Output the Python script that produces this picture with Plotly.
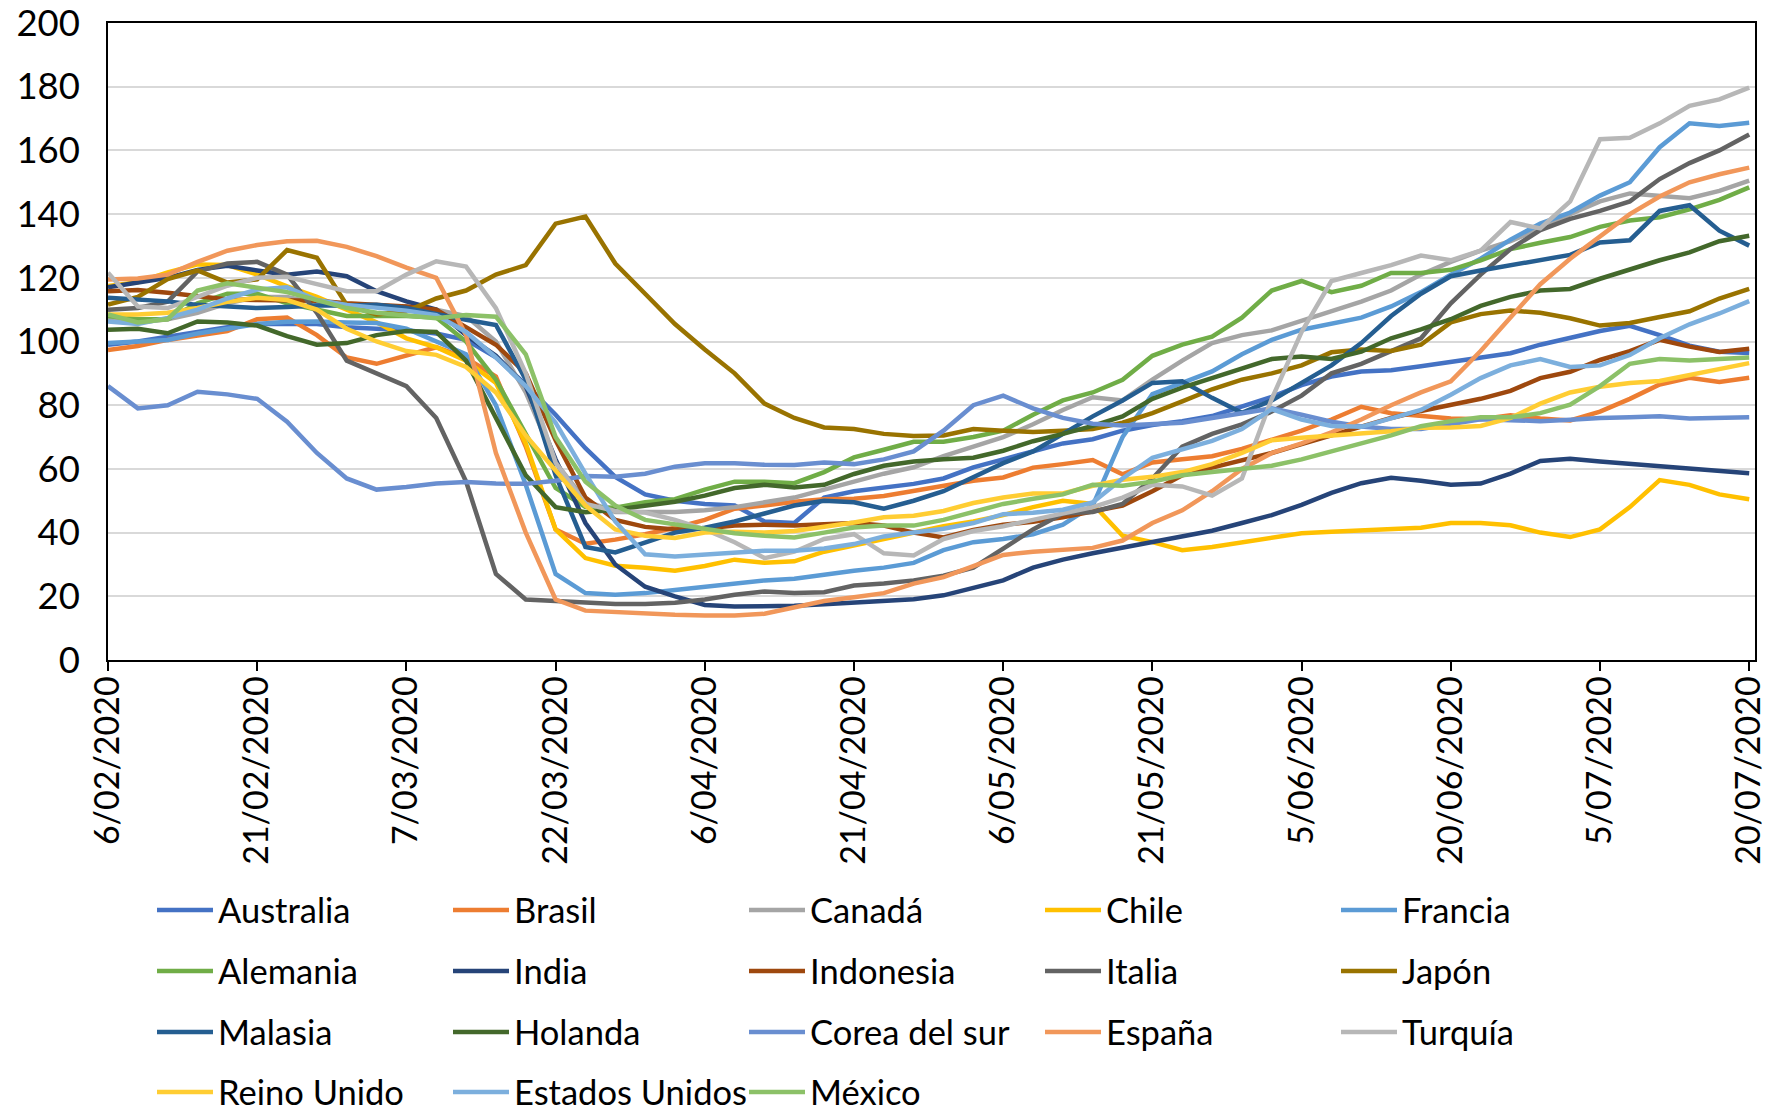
import pandas as pd
import plotly.graph_objects as go

# Sample dates: every 3 days from 6 Feb 2020 to 20 Jul 2020
DATES = pd.date_range("2020-02-06", periods=56, freq="3D")

TICK_DATES = ["2020-02-06", "2020-02-21", "2020-03-07", "2020-03-22", "2020-04-06", "2020-04-21",
              "2020-05-06", "2020-05-21", "2020-06-05", "2020-06-20", "2020-07-05", "2020-07-20"]
TICK_LABELS = ["6/02/2020", "21/02/2020", "7/03/2020", "22/03/2020", "6/04/2020", "21/04/2020",
               "6/05/2020", "21/05/2020", "5/06/2020", "20/06/2020", "5/07/2020", "20/07/2020"]

australia = [99, 100, 101.5, 103, 104.5, 105.5, 105.5, 105.5, 104.5, 104, 103.5, 102.5, 100.5, 95, 86.5, 77,
             66.5, 57.5, 52, 50, 49, 48.5, 43.5, 43, 51, 53, 54.2, 55.3, 57, 60.5, 63, 65.5, 68, 69.3, 72, 73.8,
             75, 76.6, 79.7, 82.6, 86.3, 89, 90.6, 91, 92.2, 93.5, 95.1, 96.3, 99, 101, 103.3, 104.9, 102, 98.7,
             96.8, 96.4]
brasil = [97.3, 98.6, 100.5, 102, 103.3, 107, 107.5, 102, 95, 93, 95.5, 98.2, 94.8, 89, 67, 41, 36.5, 37.8, 39.5,
          41.5, 44, 47.5, 48.5, 49.7, 50.5, 50.6, 51.5, 53, 54.6, 56.3, 57.3, 60.4, 61.5, 62.8, 58.3, 62, 63, 64,
          66.3, 69, 72, 75.5, 79.5, 77.5, 76.5, 75.8, 75.6, 76.8, 75.8, 75.2, 78, 82, 86.5, 88.6, 87.3, 88.6]
canada = [107, 106, 107, 109, 112, 114, 114, 112, 111, 111, 111, 110, 108, 100, 84, 62, 50, 46.5, 46.5, 46.5, 47,
          48, 49.5, 51, 53.5, 56, 58.5, 60.5, 64, 67, 70, 74, 78.5, 82.5, 81.5, 88, 94, 99.5, 102, 103.5, 106.5,
          109.5, 112.5, 116, 121, 125, 128.5, 131.5, 135.5, 140, 144, 146.5, 145.8, 145, 147.3, 150.5]
chile = [117.4, 118.6, 121.7, 124.2, 124, 121, 117.3, 114, 110, 106, 101, 98.2, 94, 87, 68, 41, 32, 29.6, 29, 28,
         29.5, 31.5, 30.5, 31, 34, 36, 38, 39.7, 42, 43.5, 45.5, 48, 50, 49, 39, 37, 34.5, 35.5, 37, 38.6, 39.8,
         40.3, 40.6, 41, 41.5, 43, 43, 42.3, 40, 38.6, 41, 48, 56.5, 55, 52, 50.5]
francia = [99.5, 100, 100.5, 102.5, 104, 105.5, 106.2, 106.3, 106, 105.8, 104, 100, 96, 80, 55, 27, 21, 20.5, 21,
           22, 23, 24, 25, 25.5, 26.8, 28, 29, 30.5, 34.5, 37, 38, 39.5, 42.5, 48.5, 70, 83.5, 87, 90.6, 96, 100.5,
           103.7, 105.5, 107.5, 111, 115.5, 121, 126, 132, 137, 140.5, 145.8, 150, 161, 168.5, 167.7, 168.7]
alemania = [108, 107, 107, 112, 115, 115, 112, 110, 108, 108, 108, 107.5, 100, 88, 71, 54, 48, 47.8, 49.5, 50.5,
            53.5, 56, 56, 55.5, 59, 63.6, 66, 68.5, 68.5, 70, 72, 77, 81.5, 84, 88, 95.5, 99, 101.5, 107.5, 116,
            119, 115.5, 117.5, 121.5, 121.5, 122.5, 125.5, 129, 131, 132.8, 136, 138, 139, 141.5, 144.5, 148.4]
india = [117, 118.5, 120, 122.5, 123.8, 122.3, 121, 122, 120.5, 115.8, 112.6, 110, 102, 95.5, 86, 63, 43, 30, 23,
         20, 17.3, 16.8, 16.8, 17, 17.5, 18.1, 18.6, 19.1, 20.3, 22.5, 25, 29, 31.5, 33.5, 35.2, 37, 38.7, 40.6,
         43, 45.5, 48.7, 52.5, 55.5, 57.2, 56.3, 55, 55.4, 58.5, 62.5, 63.2, 62.3, 61.6, 61, 60.3, 59.6, 58.6]
indonesia = [115.8, 116.2, 115.3, 114.2, 113.2, 113, 113, 112.8, 112, 111.5, 111, 110, 104.5, 99, 90, 69, 51, 44,
             41.8, 41, 41.3, 42.2, 42.5, 42.2, 42.6, 43, 42.2, 40, 38.5, 40.8, 42.5, 43.4, 44.8, 46.5, 48.5, 53, 58,
             60.4, 62.6, 65, 67.8, 70.5, 73.5, 76, 78.2, 80, 82, 84.5, 88.5, 90.5, 94.2, 97, 100.5, 98.4, 96.7, 97.7]
italia = [110, 110.5, 112.5, 122, 124.5, 125, 121, 109, 94, 90, 86, 76, 56, 27, 19, 18.5, 18, 17.6, 17.6, 18, 19,
          20.5, 21.5, 21, 21.3, 23.4, 24, 25, 26.5, 29, 35, 41, 46, 46.5, 49, 57, 67, 71, 74, 78, 83, 90, 93, 97,
          101, 112, 121, 129, 135, 138.5, 141, 144, 151, 156, 160, 165]
japon = [111.6, 114, 119.6, 122.3, 118.5, 119.5, 128.7, 126.3, 111.5, 108.5, 109.5, 113.5, 116, 121, 124, 137,
         139.2, 124.5, 115, 105.5, 97.5, 90, 80.5, 76, 73, 72.5, 71, 70.3, 70.5, 72.5, 72, 71.6, 72, 72.5, 74.5,
         77.5, 81.2, 85, 88, 90, 92.5, 96.6, 97.5, 97, 99, 106, 108.6, 109.7, 109, 107.3, 105, 105.8, 107.7,
         109.5, 113.5, 116.5]
malasia = [113.7, 113, 112.6, 111.5, 111, 110.5, 110.8, 111.3, 111.3, 111.5, 110.5, 108.5, 106.8, 105.2, 88, 58,
           35.5, 33.8, 37, 40, 41.5, 43.5, 46, 48.5, 50, 49.5, 47.5, 50, 53, 57.5, 61.8, 65.5, 71, 76.5, 81.5, 87,
           87.5, 82.3, 77.6, 81.5, 87, 92.5, 99.5, 108, 115, 120.5, 122.3, 124, 125.8, 127.2, 131.1, 131.8, 141,
           142.8, 134.8, 130.1]
holanda = [103.7, 104, 102.6, 106.3, 106, 105, 101.7, 99, 99.5, 102, 103.3, 103, 94, 76, 58, 48, 46.4, 47.2, 48.5,
           49.7, 51.6, 54, 55, 54.2, 55, 58.4, 61, 62.3, 63, 63.5, 65.7, 68.7, 71, 73.5, 76.5, 82, 85.5, 88.5, 91.7,
           94.5, 95.3, 94.5, 96.8, 101, 103.8, 107, 111.2, 114, 116, 116.5, 119.7, 122.6, 125.5, 128, 131.5, 133.2]
corea = [86, 79, 80, 84.2, 83.4, 82, 74.8, 65, 57, 53.5, 54.3, 55.4, 55.9, 55.4, 55.3, 56.3, 57.8, 57.5, 58.5,
         60.7, 61.8, 61.8, 61.3, 61.2, 62, 61.5, 63, 65.5, 72, 80, 83, 79, 76, 74.2, 73.6, 74, 74.5, 76, 77.4, 79,
         77, 74.8, 73.3, 72.5, 72.5, 74, 75.6, 75.3, 75, 75.4, 76, 76.2, 76.5, 75.8, 76, 76.2]
espana = [119.5, 119.8, 121, 125, 128.5, 130.3, 131.5, 131.6, 129.7, 126.8, 123.2, 120, 102, 65, 40, 19, 15.5, 15,
          14.5, 14.2, 14, 14, 14.5, 16.5, 18.5, 19.7, 21, 24, 26, 29.5, 33, 34, 34.5, 35.2, 37.5, 43, 47, 53, 60,
          65, 68, 71.5, 75.5, 80, 84, 87.5, 97, 107.5, 118, 126, 133, 140, 145.5, 150, 152.5, 154.6]
turquia = [121.6, 111, 110.5, 114, 117.5, 120, 120.3, 118, 115.8, 115.8, 121, 125.2, 123.5, 110.5, 90, 62, 49, 46.8,
           46.3, 44, 41, 37, 32, 34, 38, 39.5, 33.5, 32.8, 38, 40.5, 42, 44, 46, 48, 51, 55, 54.5, 51.6, 57, 82,
           103, 119, 121.5, 124, 127, 125.5, 128.5, 137.5, 135.5, 144, 163.5, 164, 168.5, 174, 176, 179.7]
reino_unido = [108.5, 108.5, 109, 110.5, 112.5, 113.7, 113, 110, 104, 100, 97, 95.8, 92, 84, 70.5, 59.5, 48.5, 41,
               39, 38.3, 40, 40.3, 40, 40.5, 41.8, 43.2, 44.8, 45.3, 46.8, 49.3, 51, 52.3, 52.3, 54.7, 56.6, 57.5,
               59, 61.5, 65, 69, 69.8, 70.5, 71, 71.8, 72.9, 73, 73.5, 76, 80.5, 84, 85.8, 87, 87.6, 89.4, 91.2,
               93.2]
estados_unidos = [106.3, 105.5, 107.4, 110, 113.5, 116.3, 117, 113, 111.5, 110.5, 109.7, 108.3, 103, 95, 86, 74.5,
                  58.5, 43.5, 33.2, 32.5, 33, 33.8, 34.3, 34.3, 35, 36.4, 38.8, 40, 41.2, 43, 45.8, 46.2, 47.2,
                  49.5, 57, 63.5, 66.3, 68.8, 72.5, 78.8, 75.5, 73.5, 73.2, 75.8, 78.5, 83.3, 88.5, 92.5, 94.5, 92,
                  92.5, 95.8, 101, 105.4, 108.8, 112.7]
mexico = [108.5, 106, 107, 116, 118.3, 117, 115.5, 113, 110.5, 109, 108, 107.3, 108.3, 107.8, 96, 70, 56, 48.5, 44,
          42.5, 41, 39.8, 39, 38.5, 40, 41.6, 42.2, 42.2, 44, 46.5, 49, 50.6, 52, 55, 54.7, 56, 58, 59, 60, 61, 63,
          65.5, 68, 70.5, 73.4, 75, 76.2, 76.2, 77.5, 80.2, 86, 93, 94.5, 94, 94.5, 95]

SERIES = [
    ("Australia", australia, "#4472C4"),
    ("Brasil", brasil, "#ED7D31"),
    ("Canadá", canada, "#A5A5A5"),
    ("Chile", chile, "#FFC000"),
    ("Francia", francia, "#5B9BD5"),
    ("Alemania", alemania, "#70AD47"),
    ("India", india, "#264478"),
    ("Indonesia", indonesia, "#9E480E"),
    ("Italia", italia, "#636363"),
    ("Japón", japon, "#997300"),
    ("Malasia", malasia, "#255E91"),
    ("Holanda", holanda, "#43682B"),
    ("Corea del sur", corea, "#698ED0"),
    ("España", espana, "#F1975A"),
    ("Turquía", turquia, "#B7B7B7"),
    ("Reino Unido", reino_unido, "#FFCD33"),
    ("Estados Unidos", estados_unidos, "#7CAFDD"),
    ("México", mexico, "#8CC168"),
]

FONT = "Lato"
LEGEND_FS = 34.5
YTICK_FS = 36.5
XTICK_FS = 34
LEGEND_KEYS = ["legend", "legend2", "legend3", "legend4"]

fig = go.Figure()
for i, (name, vals, color) in enumerate(SERIES):
    fig.add_trace(go.Scatter(
        x=DATES, y=vals, mode="lines", name=name,
        line=dict(color=color, width=4.5),
        legend=LEGEND_KEYS[i // 5],
    ))

W, H = 1773, 1112
ML, MR, MT, MB = 108, 18, 23, 452
plot_h = H - MT - MB
plot_w = W - ML - MR
row_y = [910, 971, 1032, 1092]

legend_common = dict(
    orientation="h", xanchor="left", yanchor="middle",
    x=(152 - ML) / plot_w,
    entrywidth=225, entrywidthmode="pixels",
    itemwidth=56,
    font=dict(family=FONT, size=LEGEND_FS, color="#000000"),
    bgcolor="rgba(0,0,0,0)", borderwidth=0,
    tracegroupgap=0,
)
legends = {}
for k, key in enumerate(LEGEND_KEYS):
    d = dict(legend_common)
    d["y"] = (H - MB - row_y[k]) / plot_h
    legends[key] = d

fig.update_layout(
    width=W, height=H,
    margin=dict(l=ML, r=MR, t=MT, b=MB, autoexpand=False),
    paper_bgcolor="white", plot_bgcolor="white",
    font=dict(family=FONT, size=LEGEND_FS, color="#000000"),
    showlegend=True,
    **legends,
)

fig.update_xaxes(
    type="date", automargin=False,
    range=["2020-02-06", "2020-07-20 14:00"],
    tickvals=TICK_DATES, ticktext=TICK_LABELS,
    tickangle=-90,
    ticks="outside", ticklen=9, tickwidth=1.5, tickcolor="#000000",
    ticklabelstandoff=-8, ticklabeloverflow="allow",
    showline=True, linecolor="#000000", linewidth=1.5, mirror=True,
    showgrid=False, zeroline=False,
    tickfont=dict(family=FONT, size=XTICK_FS, color="#000000"),
)
fig.update_yaxes(
    automargin=False,
    range=[0, 200], dtick=20, tick0=0,
    showgrid=True, gridcolor="#D9D9D9", gridwidth=1.5,
    showline=True, linecolor="#000000", linewidth=1.5, mirror=True,
    zeroline=False, ticks="",
    ticklabelstandoff=19, ticklabeloverflow="allow",
    tickfont=dict(family=FONT, size=YTICK_FS, color="#000000"),
)

fig.write_html(
    "out.html",
    config={"displayModeBar": False},
    post_script="document.body.style.margin='0';document.body.style.padding='0';",
)
